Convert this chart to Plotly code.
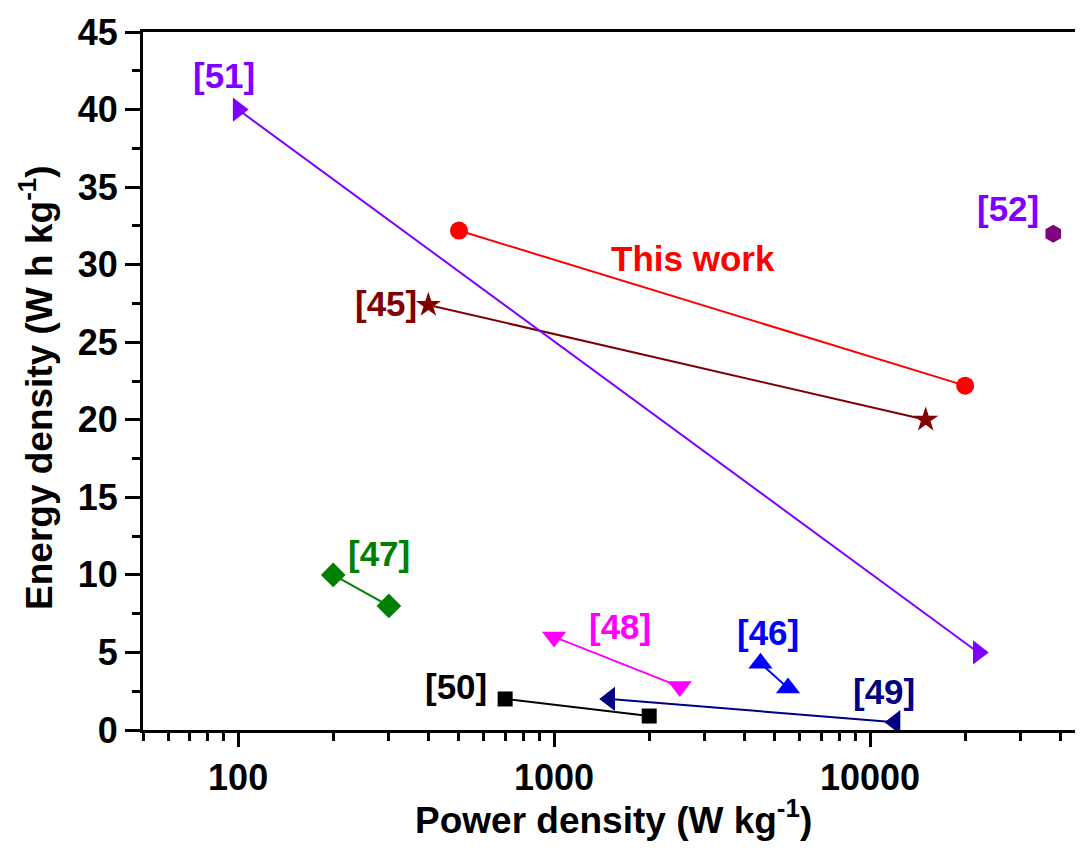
import numpy as np
import plotly.graph_objects as go

# ---- data ----
series_names = ["This work", "[45]", "[51]", "[52]", "[47]", "[48]", "[46]", "[49]", "[50]"]
power = {
    "This work": [500, 20000],
    "[45]": [400, 15000],
    "[51]": [100, 22000],
    "[52]": [38000],
    "[47]": [200, 300],
    "[48]": [1000, 2500],
    "[46]": [4500, 5500],
    "[49]": [1500, 12000],
    "[50]": [700, 2000],
}
energy = {
    "This work": [32.2, 22.2],
    "[45]": [27.4, 20.0],
    "[51]": [40.0, 5.0],
    "[52]": [32.0],
    "[47]": [10.0, 8.0],
    "[48]": [6.0, 2.8],
    "[46]": [4.3, 2.7],
    "[49]": [2.0, 0.5],
    "[50]": [2.0, 0.9],
}
# label positions (power, energy)
label_x = [2750, 294, 90, 27300, 280, 1620, 4750, 11100, 490]
label_y = [30.4, 27.5, 42.2, 33.6, 11.4, 6.7, 6.3, 2.5, 2.8]

colors = {
    "This work": "#FF0000", "[45]": "#800000", "[51]": "#8000FF", "[52]": "#800080",
    "[47]": "#008000", "[48]": "#FF00FF", "[46]": "#0000FF", "[49]": "#000080", "[50]": "#000000",
}
label_colors = dict(colors)
label_colors["[52]"] = "#8000FF"
symbols = {
    "This work": "circle", "[45]": "star", "[51]": "triangle-right", "[52]": "hexagon",
    "[47]": "diamond", "[48]": "triangle-down", "[46]": "triangle-up", "[49]": "triangle-left",
    "[50]": "square",
}
sizes = {
    "This work": 18, "[45]": 19, "[51]": 21, "[52]": 18, "[47]": 19, "[48]": 21,
    "[46]": 21, "[49]": 21, "[50]": 15,
}

FONT = "Liberation Sans, Arial, sans-serif"

fig = go.Figure()
for name in series_names:
    fig.add_trace(go.Scatter(
        x=power[name], y=energy[name], mode="lines+markers",
        line=dict(color=colors[name], width=2),
        marker=dict(symbol=symbols[name], size=sizes[name], color=colors[name],
                    line=dict(width=0)),
        showlegend=False,
    ))

for name, lx, ly in zip(series_names, label_x, label_y):
    fig.add_annotation(x=np.log10(lx), y=ly, xref="x", yref="y", text=f"<b>{name}</b>",
                       showarrow=False, font=dict(family=FONT, size=35, color=label_colors[name]),
                       xanchor="center", yanchor="middle")

fig.add_annotation(xref="paper", yref="paper", x=-106 / 940, y=0.49, textangle=-90,
                   text="<b>Energy density (W h kg<sup>-1</sup>)</b>", showarrow=False,
                   font=dict(family=FONT, size=37, color="black"), xanchor="center", yanchor="middle")
fig.add_annotation(xref="paper", yref="paper", x=0.5, y=-0.126,
                   text="<b>Power density (W kg<sup>-1</sup>)</b>", showarrow=False,
                   font=dict(family=FONT, size=37, color="black"), xanchor="center", yanchor="middle")

fig.update_xaxes(
    type="log", range=[np.log10(50), np.log10(47200)],
    tickvals=[100, 1000, 10000], ticktext=["<b>100</b>", "<b>1000</b>", "<b>10000</b>"],
    ticks="outside", ticklen=14, tickwidth=2.5, tickcolor="black",
    minor=dict(ticks="outside", ticklen=8, tickwidth=2.5, tickcolor="black",
               tickvals=[50, 60, 70, 80, 90, 200, 300, 400, 500, 600, 700, 800, 900,
                         2000, 3000, 4000, 5000, 6000, 7000, 8000, 9000, 20000, 30000, 40000],
               showgrid=False),
    showline=True, linecolor="black", linewidth=3, mirror=True,
    showgrid=False, zeroline=False,
    tickfont=dict(family=FONT, size=36, color="black"),
)
fig.update_yaxes(
    range=[0, 45], tickvals=list(range(0, 46, 5)),
    ticktext=[f"<b>{v}</b>" for v in range(0, 46, 5)],
    ticks="outside", ticklen=15, tickwidth=2.5, tickcolor="black",
    minor=dict(ticks="outside", ticklen=8, tickwidth=2.5, tickcolor="black",
               tickvals=[2.5 + 5 * i for i in range(9)], showgrid=False),
    showline=True, linecolor="black", linewidth=3, mirror=False,
    showgrid=False, zeroline=False,
    tickfont=dict(family=FONT, size=36, color="black"),
)

# the page adds an 8 px body margin; figure sized so the page fills 1083x863
fig.update_layout(
    width=1075, height=855,
    margin=dict(l=135, r=0, t=24, b=133, autoexpand=False),
    plot_bgcolor="white", paper_bgcolor="white",
    font=dict(family=FONT),
)

fig.write_html("out.html")
